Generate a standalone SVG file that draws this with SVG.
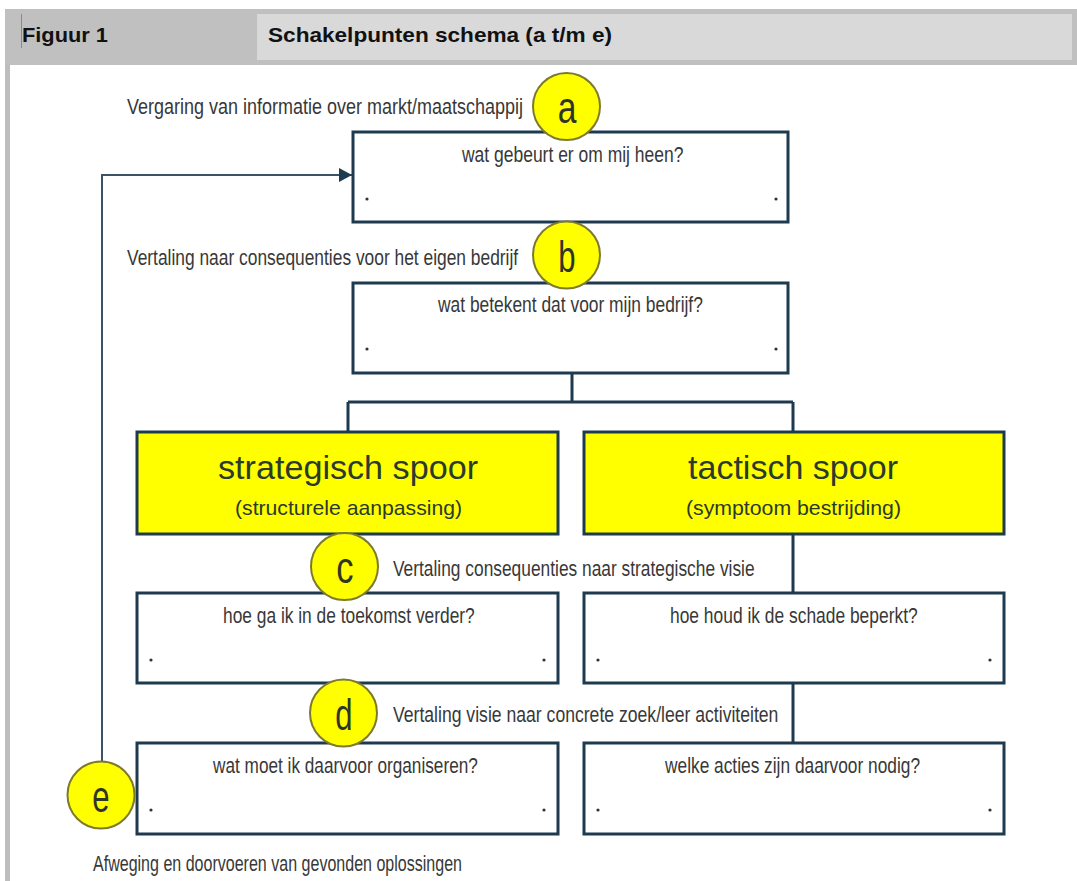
<svg xmlns="http://www.w3.org/2000/svg" width="1077" height="881" viewBox="0 0 1077 881">
  <defs>
    <style>
      .box { fill: #ffffff; stroke: #1d3a4e; stroke-width: 3; }
      .ybox { fill: #ffff00; stroke: #1d3a4e; stroke-width: 3; }
      .circ { fill: #ffff00; stroke: #7d7a2e; stroke-width: 2; }
      .lbl { font-family: "Liberation Sans", Arial, sans-serif; font-size: 22px; fill: #383838; }
      .big { font-family: "Liberation Sans", Arial, sans-serif; font-size: 34px; fill: #2b3a2e; }
      .sub { font-family: "Liberation Sans", Arial, sans-serif; font-size: 21px; fill: #2b3a2e; }
      .letter { font-family: "Liberation Sans", Arial, sans-serif; font-size: 44px; fill: #2f3528; text-anchor: middle; }
      .hdr { font-family: "Liberation Sans", Arial, sans-serif; font-size: 21px; font-weight: bold; fill: #111111; }
      .dot { fill: #333333; }
      .conn { fill: none; stroke: #1d3a4e; stroke-width: 3; }
      .fb { fill: none; stroke: #3b5364; stroke-width: 2; }
    </style>
    <marker id="arrow" markerUnits="userSpaceOnUse" markerWidth="14" markerHeight="14" refX="13" refY="7" orient="auto">
      <path d="M0,0 L13,7 L0,14 Z" fill="#1d3a4e"/>
    </marker>
  </defs>

  <rect x="0" y="0" width="1077" height="881" fill="#ffffff"/>

  <!-- header -->
  <g id="header">
    <rect x="5" y="9" width="1072" height="56" fill="#c0c0c0"/>
    <rect x="257" y="14" width="815" height="46" fill="#d9d9d9"/>
    <line x1="21.5" y1="14" x2="21.5" y2="48" stroke="#8a8a8a" stroke-width="1"/>
    <text class="hdr" x="22" y="42" textLength="86" lengthAdjust="spacingAndGlyphs">Figuur 1</text>
    <text class="hdr" x="268" y="42" textLength="344" lengthAdjust="spacingAndGlyphs">Schakelpunten schema (a t/m e)</text>
    <rect x="5" y="65" width="5" height="816" fill="#bdbdbd"/>
  </g>

  <!-- connectors -->
  <g id="connectors">
    <path class="conn" d="M572,373 V402 M348,402 H793 M348,402 V432 M793,402 V432"/>
    <path class="conn" d="M793,534 V593"/>
    <path class="conn" d="M793,683 V743"/>
    <path class="fb" d="M102,762 V175 H352" marker-end="url(#arrow)"/>
  </g>

  <!-- box a -->
  <g id="box-a">
    <rect class="box" x="353" y="132" width="435" height="90"/>
    <text class="lbl" transform="translate(462,162) scale(0.82,1)" textLength="270" lengthAdjust="spacingAndGlyphs">wat gebeurt er om mij heen?</text>
    <circle class="dot" cx="367" cy="199" r="1.6"/>
    <circle class="dot" cx="776" cy="199" r="1.6"/>
  </g>

  <!-- box b -->
  <g id="box-b">
    <rect class="box" x="353" y="283" width="435" height="90"/>
    <text class="lbl" transform="translate(438,312) scale(0.82,1)" textLength="323" lengthAdjust="spacingAndGlyphs">wat betekent dat voor mijn bedrijf?</text>
    <circle class="dot" cx="367" cy="349" r="1.6"/>
    <circle class="dot" cx="776" cy="349" r="1.6"/>
  </g>

  <!-- strategisch spoor -->
  <g id="strategisch">
    <rect class="ybox" x="137" y="432" width="421" height="102"/>
    <text class="big" x="218" y="479" textLength="260" lengthAdjust="spacingAndGlyphs">strategisch spoor</text>
    <text class="sub" x="235" y="515" textLength="227" lengthAdjust="spacingAndGlyphs">(structurele aanpassing)</text>
  </g>

  <!-- tactisch spoor -->
  <g id="tactisch">
    <rect class="ybox" x="584" y="432" width="420" height="102"/>
    <text class="big" x="688" y="479" textLength="210" lengthAdjust="spacingAndGlyphs">tactisch spoor</text>
    <text class="sub" x="686" y="515" textLength="215" lengthAdjust="spacingAndGlyphs">(symptoom bestrijding)</text>
  </g>

  <!-- hoe ga ik -->
  <g id="box-hoe-ga">
    <rect class="box" x="137" y="593" width="421" height="90"/>
    <text class="lbl" transform="translate(223,623) scale(0.82,1)" textLength="307" lengthAdjust="spacingAndGlyphs">hoe ga ik in de toekomst verder?</text>
    <circle class="dot" cx="151" cy="660" r="1.6"/>
    <circle class="dot" cx="544" cy="660" r="1.6"/>
  </g>

  <!-- hoe houd ik -->
  <g id="box-hoe-houd">
    <rect class="box" x="584" y="593" width="420" height="90"/>
    <text class="lbl" transform="translate(670,623) scale(0.82,1)" textLength="302" lengthAdjust="spacingAndGlyphs">hoe houd ik de schade beperkt?</text>
    <circle class="dot" cx="598" cy="660" r="1.6"/>
    <circle class="dot" cx="990" cy="660" r="1.6"/>
  </g>

  <!-- wat moet ik -->
  <g id="box-wat-moet">
    <rect class="box" x="137" y="743" width="421" height="91"/>
    <text class="lbl" transform="translate(213,773) scale(0.82,1)" textLength="323" lengthAdjust="spacingAndGlyphs">wat moet ik daarvoor organiseren?</text>
    <circle class="dot" cx="151" cy="810" r="1.6"/>
    <circle class="dot" cx="544" cy="810" r="1.6"/>
  </g>

  <!-- welke acties -->
  <g id="box-welke">
    <rect class="box" x="584" y="743" width="420" height="91"/>
    <text class="lbl" transform="translate(665,773) scale(0.82,1)" textLength="311" lengthAdjust="spacingAndGlyphs">welke acties zijn daarvoor nodig?</text>
    <circle class="dot" cx="598" cy="810" r="1.6"/>
    <circle class="dot" cx="990" cy="810" r="1.6"/>
  </g>

  <!-- step labels -->
  <g id="label-a">
    <text class="lbl" transform="translate(127,114) scale(0.82,1)" textLength="483" lengthAdjust="spacingAndGlyphs">Vergaring van informatie over markt/maatschappij</text>
    <circle class="circ" cx="566.5" cy="106.5" r="33.5"/>
    <text class="letter" transform="translate(567,123) scale(0.72,1)" textLength="26" lengthAdjust="spacingAndGlyphs">a</text>
  </g>
  <g id="label-b">
    <text class="lbl" transform="translate(127,265) scale(0.82,1)" textLength="477" lengthAdjust="spacingAndGlyphs">Vertaling naar consequenties voor het eigen bedrijf</text>
    <circle class="circ" cx="566.5" cy="255" r="33.5"/>
    <text class="letter" transform="translate(567,272) scale(0.72,1)" textLength="24" lengthAdjust="spacingAndGlyphs">b</text>
  </g>
  <g id="label-c">
    <circle class="circ" cx="344.5" cy="566.5" r="33.5"/>
    <text class="letter" transform="translate(345,583) scale(0.72,1)" textLength="24" lengthAdjust="spacingAndGlyphs">c</text>
    <text class="lbl" transform="translate(393,576) scale(0.82,1)" textLength="441" lengthAdjust="spacingAndGlyphs">Vertaling consequenties naar strategische visie</text>
  </g>
  <g id="label-d">
    <circle class="circ" cx="343.5" cy="713" r="33.5"/>
    <text class="letter" transform="translate(344,730) scale(0.72,1)" textLength="24" lengthAdjust="spacingAndGlyphs">d</text>
    <text class="lbl" transform="translate(393,722) scale(0.82,1)" textLength="470" lengthAdjust="spacingAndGlyphs">Vertaling visie naar concrete zoek/leer activiteiten</text>
  </g>
  <g id="label-e">
    <circle class="circ" cx="101" cy="795" r="33.5"/>
    <text class="letter" transform="translate(101,812) scale(0.72,1)" textLength="24" lengthAdjust="spacingAndGlyphs">e</text>
    <text class="lbl" transform="translate(93,871) scale(0.82,1)" textLength="450" lengthAdjust="spacingAndGlyphs">Afweging en doorvoeren van gevonden oplossingen</text>
  </g>
</svg>
